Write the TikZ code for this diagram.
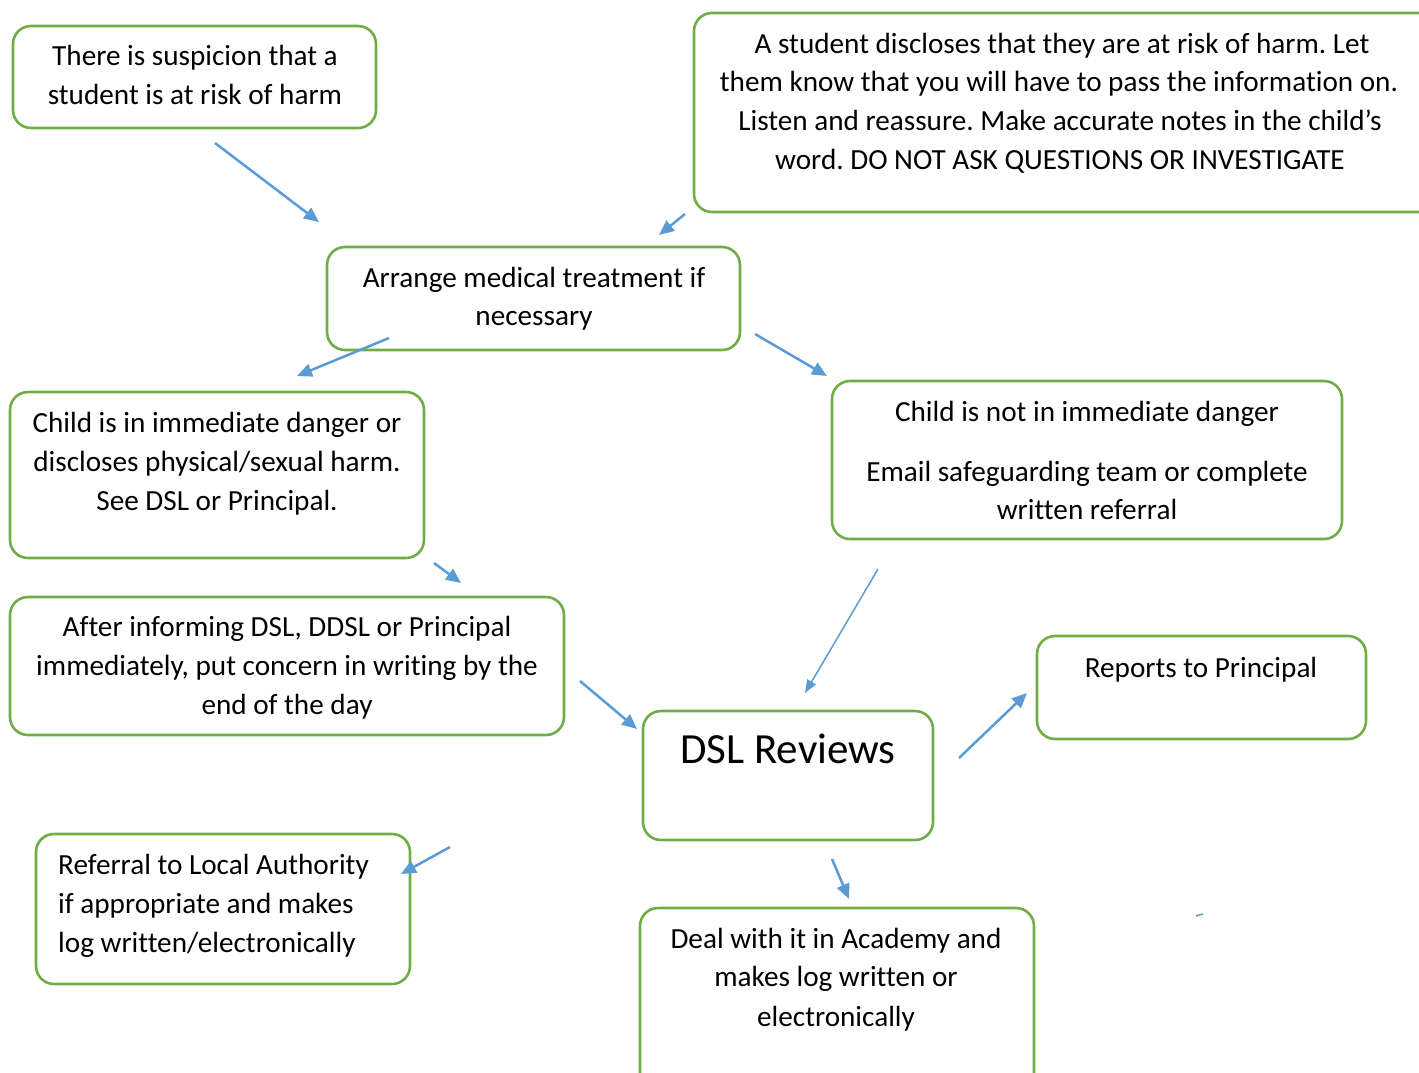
\documentclass[tikz,border=0pt]{standalone}
\usepackage{fontspec}
\setmainfont{Carlito}[Ligatures={NoCommon,NoContextual},Contextuals={NoAlternate}]
\usetikzlibrary{arrows.meta}
\definecolor{boxgreen}{HTML}{70AD47}
\definecolor{arrowblue}{HTML}{5B9BD5}
\frenchspacing
\begin{document}
\begin{tikzpicture}[x=1pt,y=-1pt,
  box/.style={draw=boxgreen, line width=2.6pt, rounded corners=18pt, inner sep=0pt},
  txt/.style={font=\fontsize{29.2}{34}\selectfont, inner sep=0pt, anchor=base},
  big/.style={font=\fontsize{43}{50}\selectfont, inner sep=0pt, anchor=base},
  arr/.style={arrowblue, line width=2.5pt, -{Triangle[length=15pt,width=13pt]}},
  thinarr/.style={arrowblue, line width=1.5pt, -{Triangle[length=13pt,width=10pt]}}]
\useasboundingbox (0,0) rectangle (1419,1072);
\clip (0,0) rectangle (1419,1072);
% boxes
\draw[box] (13,26) rectangle (376,128);
\draw[box] (694,13) rectangle (1440,212);
\draw[box] (327,247) rectangle (740,350);
\draw[box] (10,392) rectangle (424,558);
\draw[box] (832,381) rectangle (1342,539);
\draw[box] (10,597) rectangle (564,735);
\draw[box] (643,711) rectangle (933,840);
\draw[box] (1037,636) rectangle (1366,739);
\draw[box] (36,834) rectangle (410,984);
\draw[box] (640,908) rectangle (1034,1100);
% texts
\node[txt] (s1) at (195,65) {There is suspicion that a};
\node[txt] (s2) at (195,104) {student is at risk of harm};
\node[txt] (d1) at (1062,53) {A student discloses that they are at risk of harm. Let};
\node[txt] (d2) at (1059,91) {them know that you will have to pass the information on.};
\node[txt] (d3) at (1060,130) {Listen and reassure. Make accurate notes in the child’s};
\node[txt] (d4) at (1060,169) {word. DO NOT ASK QUESTIONS OR INVESTIGATE};
\node[txt] (m1) at (534,287) {Arrange medical treatment if};
\node[txt] (m2) at (534,325) {necessary};
\node[txt] (c1) at (217,432) {Child is in immediate danger or};
\node[txt] (c2) at (217,471) {discloses physical/sexual harm.};
\node[txt] (c3) at (217,510) {See DSL or Principal.};
\node[txt] (n1) at (1087,421) {Child is not in immediate danger};
\node[txt] (n2) at (1087,481) {Email safeguarding team or complete};
\node[txt] (n3) at (1087,519) {written referral};
\node[txt] (a1) at (287,636) {After informing DSL, DDSL or Principal};
\node[txt] (a2) at (287,675) {immediately, put concern in writing by the};
\node[txt] (a3) at (287,714) {end of the day};
\node[big] (r0) at (788,763) {DSL Reviews};
\node[txt] (p1) at (1201,677) {Reports to Principal};
\node[txt,anchor=base west] (l1) at (58,874) {Referral to Local Authority};
\node[txt,anchor=base west] (l2) at (58,913) {if appropriate and makes};
\node[txt,anchor=base west] (l3) at (58,952) {log written/electronically};
\node[txt] (e1) at (836,948) {Deal with it in Academy and};
\node[txt] (e2) at (836,986) {makes log written or};
\node[txt] (e3) at (836,1026) {electronically};
% arrow end points
\coordinate (A1s) at (215,143); \coordinate (A1e) at (319,222);
\coordinate (A2s) at (685,214); \coordinate (A2e) at (659,235);
\coordinate (A3s) at (389,338); \coordinate (A3e) at (297,376);
\coordinate (A4s) at (755,334); \coordinate (A4e) at (827,376);
\coordinate (A5s) at (434,563); \coordinate (A5e) at (461,583);
\coordinate (A6s) at (878,569); \coordinate (A6e) at (805,693);
\coordinate (A7s) at (959,758); \coordinate (A7e) at (1027,693);
\coordinate (A8s) at (580,681); \coordinate (A8e) at (637,729);
\coordinate (A9s) at (450,847); \coordinate (A9e) at (401,874);
\coordinate (A10s) at (832,859); \coordinate (A10e) at (849,899);
\coordinate (Ts) at (1196,916); \coordinate (Te) at (1203,914);
\draw[arr] (A1s) -- (A1e);
\draw[arr] (A2s) -- (A2e);
\draw[arr] (A3s) -- (A3e);
\draw[arr] (A4s) -- (A4e);
\draw[arr] (A5s) -- (A5e);
\draw[thinarr] (A6s) -- (A6e);
\draw[arr] (A7s) -- (A7e);
\draw[arr] (A8s) -- (A8e);
\draw[arr] (A9s) -- (A9e);
\draw[arr] (A10s) -- (A10e);
\draw[arrowblue, line width=1.5pt] (Ts) -- (Te);
\end{tikzpicture}
\end{document}
